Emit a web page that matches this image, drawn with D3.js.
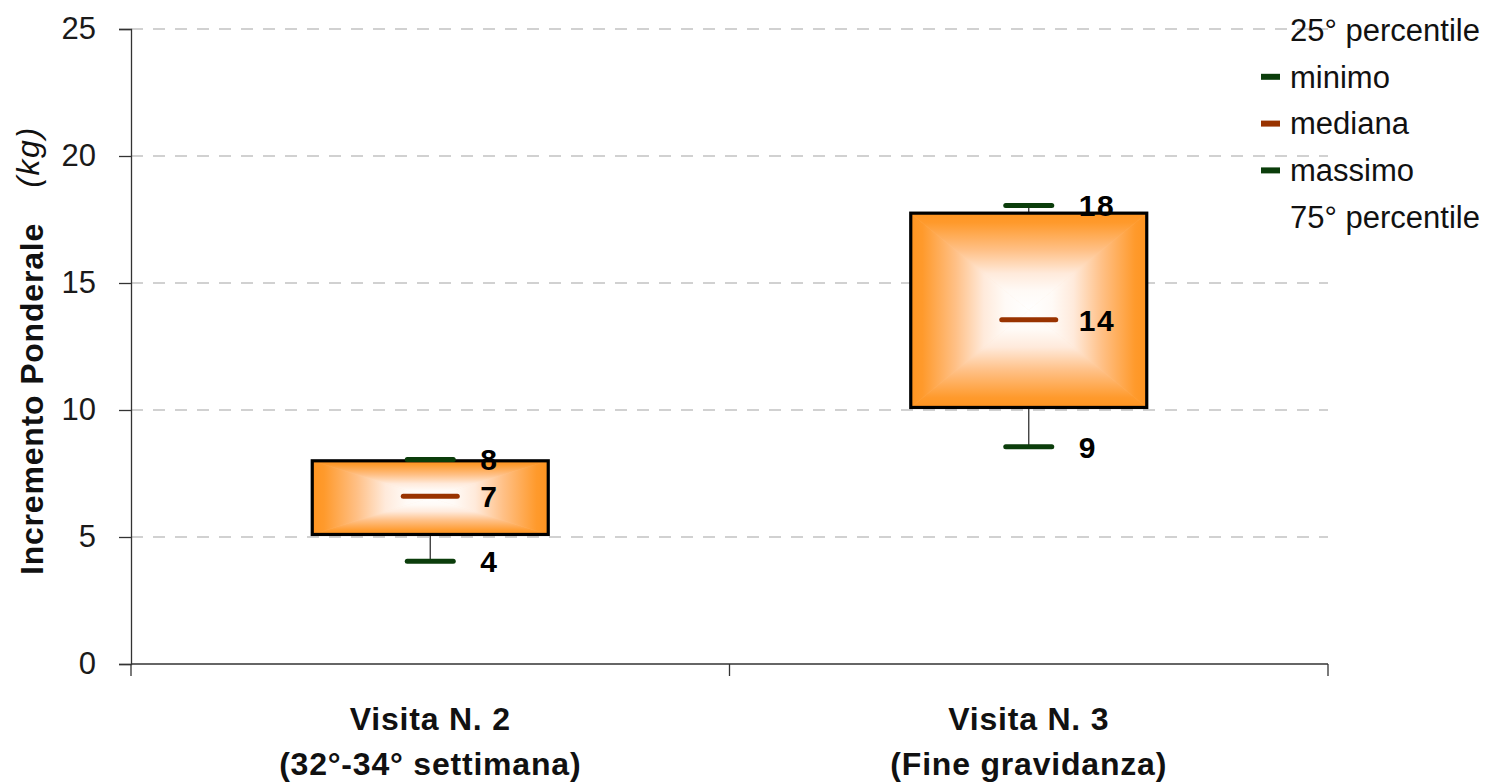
<!DOCTYPE html>
<html>
<head>
<meta charset="utf-8">
<script src="https://cdn.jsdelivr.net/npm/d3@7"></script>
<style>
  html, body { margin: 0; padding: 0; background: #fff; }
  svg { display: block; font-family: "Liberation Sans", Arial, sans-serif; }
</style>
</head>
<body>
<svg id="chart" width="1493" height="783"></svg>
<script>
// Weight gain (kg) at two prenatal visits
const categories = ["Visita N. 2|(32°-34° settimana)", "Visita N. 3|(Fine gravidanza)"];
const minimo   = [4.05, 8.55];
const q1       = [5.1, 10.1];
const mediana  = [6.6, 13.55];
const q3       = [8.0, 17.75];
const massimo  = [8.05, 18.05];
const yTicks   = [0, 5, 10, 15, 20, 25];
const legendItems = [
  { label: "25° percentile", color: null },
  { label: "minimo", color: "#0b3d0b" },
  { label: "mediana", color: "#993300" },
  { label: "massimo", color: "#0b3d0b" },
  { label: "75° percentile", color: null }
];

const svg = d3.select("#chart");
const plotLeft = 131, plotRight = 1328, plotTop = 29, plotBottom = 664;

const x = d3.scaleBand().domain(categories).range([plotLeft, plotRight]);
const y = d3.scaleLinear().domain([0, 25]).range([plotBottom, plotTop]);

// Rectangular (path-style) gradient built from four triangles
const defs = svg.append("defs");
const grad = (id, x1, y1, x2, y2) => {
  const g = defs.append("linearGradient").attr("id", id)
    .attr("x1", x1).attr("y1", y1).attr("x2", x2).attr("y2", y2);
  [[0, "#ff9420"], [0.1, "#ff9a2c"], [0.38, "#ffc086"], [0.62, "#ffeadb"], [0.8, "#fffaf6"], [1, "#ffffff"]]
    .forEach(([o, c]) => g.append("stop").attr("offset", o).attr("stop-color", c));
};
grad("gTop", 0, 0, 0, 1);
grad("gBot", 0, 1, 0, 0);
grad("gLeft", 0, 0, 1, 0);
grad("gRight", 1, 0, 0, 0);

// Gridlines
svg.append("g").selectAll("line").data(yTicks.filter(d => d > 0)).join("line")
  .attr("x1", plotLeft).attr("x2", plotRight)
  .attr("y1", d => y(d)).attr("y2", d => y(d))
  .attr("stroke", "#c2c2c2").attr("stroke-width", 1.3)
  .attr("stroke-dasharray", "12,10");

// Y axis
const yAxis = svg.append("g").attr("transform", `translate(${plotLeft},0)`)
  .call(d3.axisLeft(y).tickValues(yTicks).tickSize(12).tickPadding(23));
yAxis.select(".domain").attr("stroke", "#333").attr("stroke-width", 1.3);
yAxis.selectAll(".tick line").attr("stroke", "#333").attr("stroke-width", 1.3);
yAxis.selectAll(".tick text").attr("font-size", 31).attr("fill", "#1a1a1a")
  .attr("font-family", "Liberation Sans, Arial, sans-serif");

// X axis with ticks at band boundaries
svg.append("line").attr("x1", plotLeft).attr("x2", plotRight)
  .attr("y1", plotBottom).attr("y2", plotBottom)
  .attr("stroke", "#333").attr("stroke-width", 1.3);
const bounds = [plotLeft, ...categories.slice(1).map(c => x(c)), plotRight];
svg.append("g").selectAll("line").data(bounds).join("line")
  .attr("x1", d => d).attr("x2", d => d)
  .attr("y1", plotBottom).attr("y2", plotBottom + 12)
  .attr("stroke", "#333").attr("stroke-width", 1.3);

// Category labels
const xl = svg.append("g").selectAll("text").data(categories).join("text")
  .attr("text-anchor", "middle")
  .attr("font-weight", "bold").attr("font-size", 32)
  .attr("letter-spacing", 0.8)
  .attr("fill", "#111");
xl.each(function(d) {
  const parts = d.split("|");
  const t = d3.select(this);
  const cx = x(d) + x.bandwidth() / 2;
  t.append("tspan").attr("x", cx).attr("y", 730).text(parts[0]);
  t.append("tspan").attr("x", cx).attr("y", 775).text(parts[1]);
});

// Y title
svg.append("text")
  .attr("transform", "translate(43,399) rotate(-90)")
  .attr("text-anchor", "middle").attr("font-size", 32).attr("font-weight", "bold")
  .attr("letter-spacing", 0.8).attr("fill", "#111").text("Incremento Ponderale");
svg.append("text")
  .attr("transform", "translate(39,157) rotate(-90)")
  .attr("text-anchor", "middle").attr("font-size", 32).attr("font-style", "italic")
  .attr("letter-spacing", 1.5).attr("fill", "#111").text("(kg)");

// Boxes
const boxW = 236, capW = 46, medW = 54;
const fmt = d3.format(".0f");
categories.forEach((c, i) => {
  const cx = x(c) + x.bandwidth() / 2;
  const x0 = cx - boxW / 2, x1 = cx + boxW / 2;
  const yt3 = y(q3[i]), yb1 = y(q1[i]);
  const mx = (x0 + x1) / 2, my = (yt3 + yb1) / 2;
  const g = svg.append("g");

  // whiskers
  g.append("line").attr("x1", cx).attr("x2", cx)
    .attr("y1", yb1).attr("y2", y(minimo[i]))
    .attr("stroke", "#333").attr("stroke-width", 1.3);
  g.append("line").attr("x1", cx).attr("x2", cx)
    .attr("y1", yt3).attr("y2", y(massimo[i]))
    .attr("stroke", "#333").attr("stroke-width", 1.3);

  g.append("rect").attr("x", x0).attr("y", yt3)
    .attr("width", boxW).attr("height", yb1 - yt3).attr("fill", "#ffd2a6");
  const tri = (pts, fill) => g.append("polygon")
    .attr("points", pts.map(p => p.join(",")).join(" "))
    .attr("fill", `url(#${fill})`).attr("stroke", `url(#${fill})`)
    .attr("stroke-width", 0.6).attr("stroke-linejoin", "round");
  tri([[x0, yt3], [x1, yt3], [mx, my]], "gTop");
  tri([[x0, yb1], [x1, yb1], [mx, my]], "gBot");
  tri([[x0, yt3], [x0, yb1], [mx, my]], "gLeft");
  tri([[x1, yt3], [x1, yb1], [mx, my]], "gRight");
  g.append("rect").attr("x", x0).attr("y", yt3)
    .attr("width", boxW).attr("height", yb1 - yt3)
    .attr("fill", "none").attr("stroke", "#000").attr("stroke-width", 3.2);

  // caps and median
  const bar = (v, w, col) => g.append("line")
    .attr("x1", cx - w / 2).attr("x2", cx + w / 2)
    .attr("y1", y(v)).attr("y2", y(v))
    .attr("stroke", col).attr("stroke-width", 5).attr("stroke-linecap", "round");
  bar(minimo[i], capW, "#0b3d0b");
  bar(massimo[i], capW, "#0b3d0b");
  bar(mediana[i], medW, "#993300");

  // value labels
  [minimo[i], mediana[i], massimo[i]].forEach(v => {
    g.append("text").attr("x", cx + 50).attr("y", y(v))
      .attr("dy", "0.36em").attr("font-size", 30).attr("font-weight", "bold")
      .attr("letter-spacing", 1.5).attr("fill", "#000").text(fmt(v));
  });
});

// Legend
const lg = svg.append("g").selectAll("g").data(legendItems).join("g")
  .attr("transform", (d, i) => `translate(1260, ${30 + i * 46.8})`);
lg.filter(d => d.color).append("line")
  .attr("x1", 1).attr("x2", 20).attr("y1", 0).attr("y2", 0)
  .attr("stroke", d => d.color).attr("stroke-width", 6);
lg.append("text").attr("x", 30).attr("dy", "0.35em")
  .attr("font-size", 31).attr("fill", "#111").text(d => d.label);
</script>
</body>
</html>
